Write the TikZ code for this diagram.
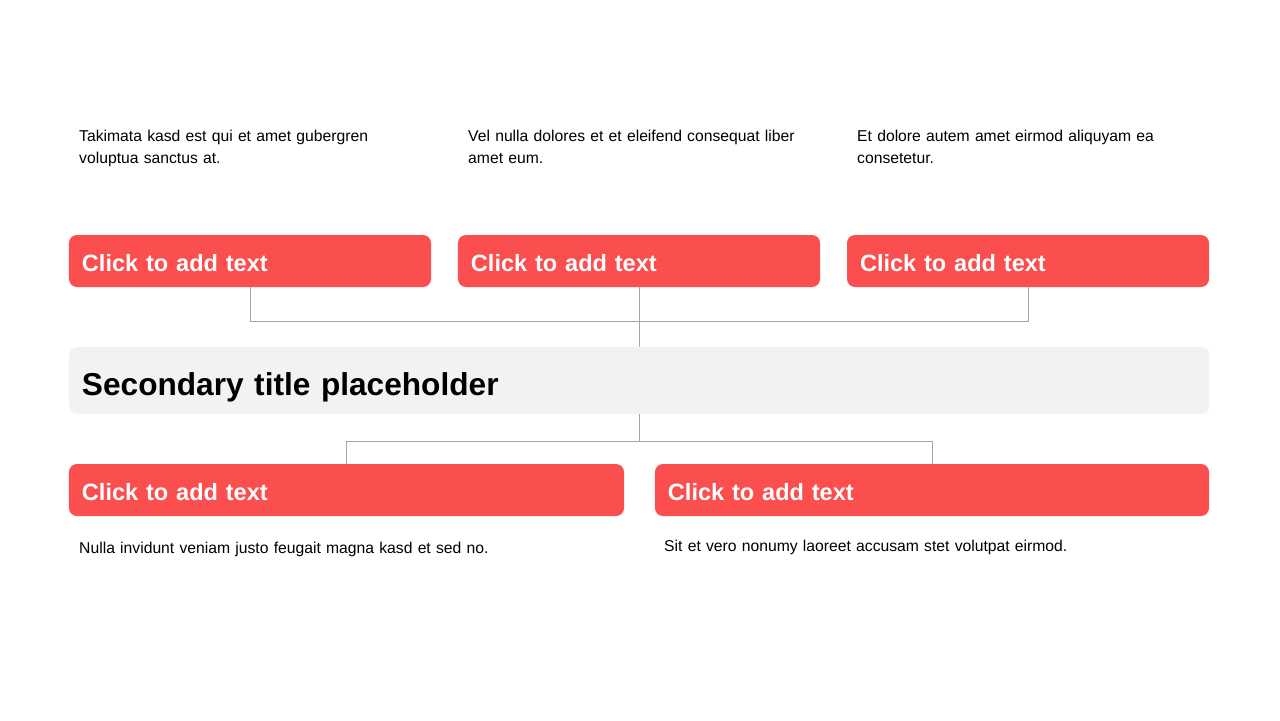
\documentclass[tikz,border=0pt]{standalone}
\usepackage{fontspec}
\setmainfont{Liberation Sans}
\usetikzlibrary{positioning}

\definecolor{slidered}{HTML}{FB4E4E}
\definecolor{titlegrey}{HTML}{F2F2F2}
\definecolor{linkgrey}{HTML}{A6A6A6}

\begin{document}
\begin{tikzpicture}[
  x=0.03cm,y=-0.03cm,
  redbox/.style={rectangle,rounded corners=0.24cm,fill=slidered,text=white,
    font=\fontsize{20.1}{24}\selectfont\bfseries,align=left,
    text height=0.64cm,text depth=0pt,
    inner xsep=0.39cm,inner ysep=0pt,minimum height=1.56cm},
  titlebox/.style={rectangle,rounded corners=0.24cm,fill=titlegrey,
    font=\fontsize{27}{32}\selectfont\bfseries,align=left,
    text height=0.87cm,text depth=0pt,
    inner xsep=0.39cm,inner ysep=0pt,minimum height=2.01cm,text width=33.42cm},
  note/.style={anchor=base west,inner sep=0pt,align=left,text width=20cm,
    font=\fontsize{13.4}{19.3}\selectfont},
  link/.style={draw=linkgrey,line width=0.6pt}
]

\useasboundingbox (0,0) rectangle (1280,720);

% upper row
\node[redbox,text width=10.08cm] (top1) at (250,261) {Click to add text};
\node[redbox,text width=10.08cm] (top2) at (639,261) {Click to add text};
\node[redbox,text width=10.08cm] (top3) at (1028,261) {Click to add text};

\node[note] (note1) at (79,141) {Takimata kasd est qui et amet gubergren\\voluptua sanctus at.};
\node[note] (note2) at (468,141) {Vel nulla dolores et et eleifend consequat liber\\amet eum.};
\node[note] (note3) at (857,141) {Et dolore autem amet eirmod aliquyam ea\\consetetur.};

% title
\node[titlebox] (title) at (639,380.5) {Secondary title placeholder};

% lower row
\node[redbox,text width=15.87cm] (bot1) at (346.5,490) {Click to add text};
\node[redbox,text width=15.84cm] (bot2) at (932,490) {Click to add text};

\node[note] (note4) at (79,553) {Nulla invidunt veniam justo feugait magna kasd et sed no.};
\node[note] (note5) at (664,551) {Sit et vero nonumy laoreet accusam stet volutpat eirmod.};

% connectors
\path (top2.south) ++(0,34) coordinate (hubtop);
\draw[link] (top1.south) |- (hubtop) -| (top3.south);
\draw[link] (top2.south) -- (title.north);
\path (title.south) ++(0,27) coordinate (hubbot);
\draw[link] (title.south) -- (hubbot);
\draw[link] (bot1.north) |- (hubbot) -| (bot2.north);

\end{tikzpicture}
\end{document}
